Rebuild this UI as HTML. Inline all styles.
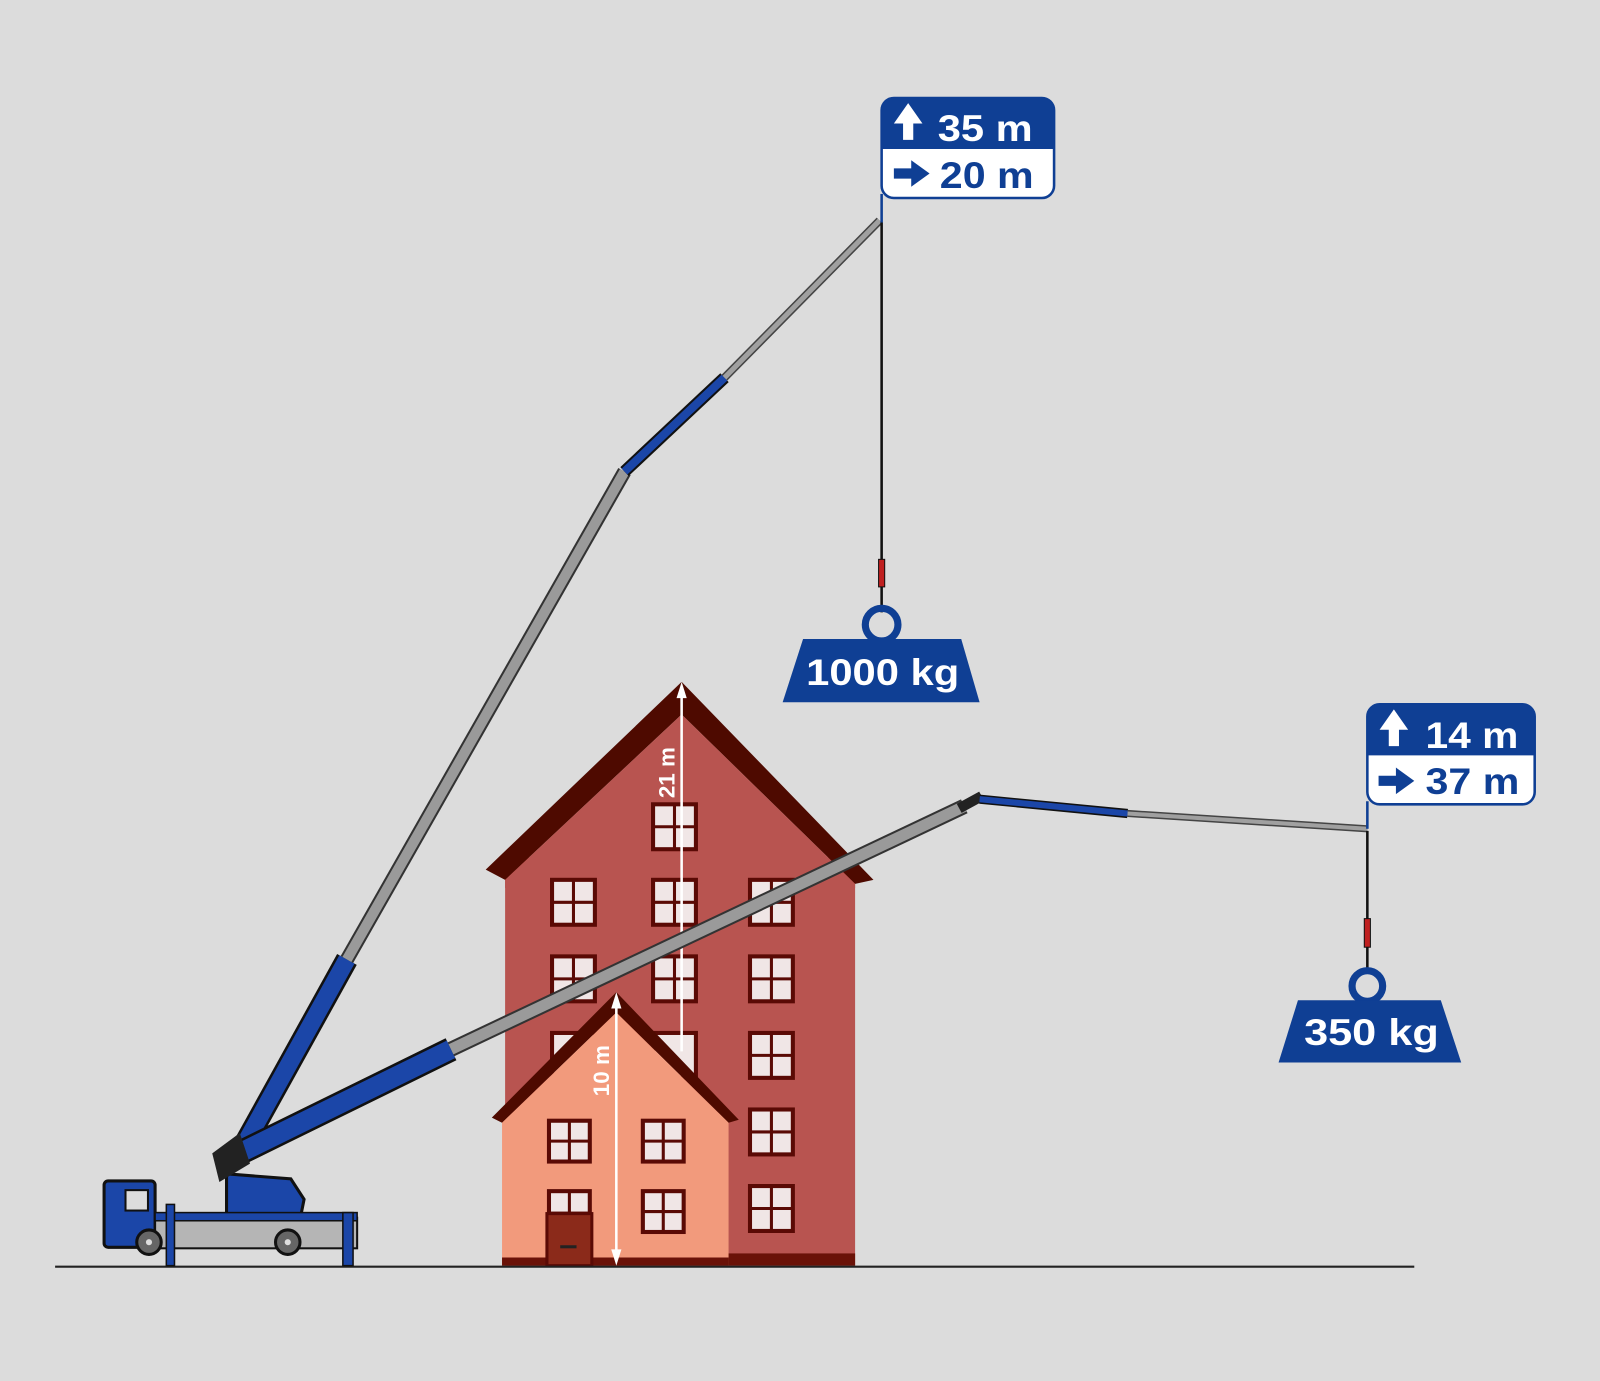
<!DOCTYPE html>
<html><head><meta charset="utf-8"><style>
html,body{margin:0;padding:0;background:#dcdcdc;}
svg{display:block;}
text{font-family:"Liberation Sans",sans-serif;font-weight:bold;}
</style></head><body>
<svg width="1600" height="1381" viewBox="0 0 1568 1353" preserveAspectRatio="none" xmlns="http://www.w3.org/2000/svg">
<rect width="1568" height="1353" fill="#dcdcdc"/>
<!-- tall building -->
<rect x="495" y="840" width="343" height="400" fill="#b85450"/>
<polygon points="476,852 668,668 856,862 838,866 668,700 495,862" fill="#4e0a00"/>
<polygon points="495,862 668,700 838,866 838,870 495,870" fill="#b85450"/>
<rect x="495" y="1228" width="343" height="12" fill="#6a1208"/>
<g fill="#f0e6e6" stroke="#5a0a05" stroke-width="4">
<rect x="640" y="788" width="42" height="44"/>
<rect x="541" y="862" width="42" height="44"/><rect x="640" y="862" width="42" height="44"/><rect x="735" y="862" width="42" height="44"/>
<rect x="541" y="937" width="42" height="44"/><rect x="640" y="937" width="42" height="44"/><rect x="735" y="937" width="42" height="44"/>
<rect x="541" y="1012" width="42" height="44"/><rect x="640" y="1012" width="42" height="44"/><rect x="735" y="1012" width="42" height="44"/>
<rect x="735" y="1087" width="42" height="44"/><rect x="735" y="1162" width="42" height="44"/>
</g>
<g stroke="#5a0a05" stroke-width="3">
<path d="M661 788v44M640 810h42M562 862v44M541 884h42M661 862v44M640 884h42M756 862v44M735 884h42M562 937v44M541 959h42M661 937v44M640 959h42M756 937v44M735 959h42M756 1012v44M735 1034h42M756 1087v44M735 1109h42M756 1162v44M735 1184h42"/>
</g>
<!-- small house -->
<rect x="492" y="1090" width="222" height="150" fill="#f29a7c"/>
<polygon points="482,1095 604,972 724,1097 714,1100 604,992 492,1100" fill="#4e0a00"/>
<polygon points="492,1100 604,992 714,1100" fill="#f29a7c"/>
<rect x="492" y="1232" width="222" height="8" fill="#6a1208"/>
<g fill="#f0e6e6" stroke="#5a0a05" stroke-width="4">
<rect x="538" y="1098" width="40" height="40"/><rect x="630" y="1098" width="40" height="40"/>
<rect x="630" y="1167" width="40" height="40"/><rect x="538" y="1167" width="40" height="22"/>
</g>
<path d="M558 1098v40M538 1118h40M650 1098v40M630 1118h40M650 1167v40M630 1187h40M558 1167v22" stroke="#5a0a05" stroke-width="3"/>
<rect x="536" y="1189" width="44" height="51" fill="#8b2a1a" stroke="#5a0a05" stroke-width="3"/>
<rect x="549" y="1220" width="16" height="3" fill="#222"/>
<!-- dimension arrows -->
<g stroke="#fff" stroke-width="2.5" fill="#fff">
<line x1="668" y1="680" x2="668" y2="1030"/>
<polygon points="668,668 663,684 673,684" stroke="none"/>
<line x1="604" y1="985" x2="604" y2="1228"/>
<polygon points="604,972 599,988 609,988" stroke="none"/>
<polygon points="604,1240 599,1224 609,1224" stroke="none"/>
</g>
<text x="0" y="0" font-size="22" fill="#fff" transform="translate(661,782) rotate(-90)">21 m</text>
<text x="0" y="0" font-size="22" fill="#fff" transform="translate(597,1074) rotate(-90)">10 m</text>
<!-- ground -->
<line x1="54" y1="1241" x2="1386" y2="1241" stroke="#222" stroke-width="2"/>
<!-- boom 1 -->
<g stroke-linecap="butt">
<line x1="232" y1="1135" x2="340" y2="940" stroke="#111" stroke-width="22"/>
<line x1="232" y1="1135" x2="340" y2="940" stroke="#1b46a8" stroke-width="17"/>
<line x1="340" y1="940" x2="612" y2="462" stroke="#333" stroke-width="14"/>
<line x1="340" y1="940" x2="612" y2="462" stroke="#9a9a9a" stroke-width="10"/>
<line x1="612" y1="462" x2="710" y2="370" stroke="#111" stroke-width="12"/>
<line x1="612" y1="462" x2="710" y2="370" stroke="#1b46a8" stroke-width="8"/>
<line x1="710" y1="370" x2="862" y2="216" stroke="#444" stroke-width="8"/>
<line x1="710" y1="370" x2="862" y2="216" stroke="#a0a0a0" stroke-width="5"/>
</g>
<line x1="864" y1="218" x2="864" y2="600" stroke="#111" stroke-width="2.5"/>
<rect x="861" y="548" width="6" height="27" fill="#c02020" stroke="#111"/>
<!-- boom 2 -->
<g>
<line x1="218" y1="1138" x2="442" y2="1028" stroke="#111" stroke-width="24"/>
<line x1="218" y1="1138" x2="442" y2="1028" stroke="#1b46a8" stroke-width="19"/>
<line x1="442" y1="1028" x2="945" y2="790" stroke="#333" stroke-width="15"/>
<line x1="442" y1="1028" x2="945" y2="790" stroke="#9a9a9a" stroke-width="11"/>
<line x1="940" y1="792" x2="962" y2="780" stroke="#222" stroke-width="10"/>
<line x1="960" y1="783" x2="1105" y2="797" stroke="#111" stroke-width="9"/>
<line x1="960" y1="783" x2="1105" y2="797" stroke="#1b46a8" stroke-width="6"/>
<line x1="1105" y1="797" x2="1340" y2="812" stroke="#444" stroke-width="7"/>
<line x1="1105" y1="797" x2="1340" y2="812" stroke="#a0a0a0" stroke-width="4"/>
</g>
<line x1="1340" y1="814" x2="1340" y2="952" stroke="#111" stroke-width="2.5"/>
<rect x="1337" y="900" width="6" height="28" fill="#c02020" stroke="#111"/>
<!-- truck -->
<g>
<polygon points="222,1150 285,1155 298,1175 295,1190 222,1190" fill="#1b46a8" stroke="#111" stroke-width="3"/>
<polygon points="208,1130 235,1110 245,1140 215,1158" fill="#222"/>
<rect x="102" y="1157" width="50" height="65" rx="4" fill="#1b46a8" stroke="#111" stroke-width="3"/>
<rect x="123" y="1166" width="22" height="20" fill="#dcdcdc" stroke="#111" stroke-width="2"/>
<rect x="152" y="1193" width="198" height="30" fill="#b5b5b5" stroke="#111" stroke-width="2"/>
<rect x="152" y="1188" width="198" height="8" fill="#1b46a8" stroke="#111" stroke-width="1.5"/>
<rect x="163" y="1180" width="8" height="60" fill="#1b46a8" stroke="#111" stroke-width="1.5"/>
<rect x="336" y="1188" width="10" height="52" fill="#1b46a8" stroke="#111" stroke-width="1.5"/>
<circle cx="146" cy="1217" r="12" fill="#666" stroke="#111" stroke-width="3"/>
<circle cx="282" cy="1217" r="12" fill="#666" stroke="#111" stroke-width="3"/>
<circle cx="146" cy="1217" r="3" fill="#ddd"/><circle cx="282" cy="1217" r="3" fill="#ddd"/>
</g>
<!-- weights -->
<g fill="#0f3f94">
<circle cx="864" cy="612" r="16" fill="none" stroke="#0f3f94" stroke-width="7"/>
<polygon points="787,626 942,626 960,688 767,688"/>
<circle cx="1340" cy="966" r="15" fill="none" stroke="#0f3f94" stroke-width="7"/>
<polygon points="1272,980 1412,980 1432,1041 1253,1041"/>
</g>
<text x="790" y="671" font-size="36" fill="#fff" textLength="150" lengthAdjust="spacingAndGlyphs">1000 kg</text>
<text x="1278" y="1024" font-size="36" fill="#fff" textLength="132" lengthAdjust="spacingAndGlyphs">350 kg</text>
<!-- label 1 -->
<rect x="864" y="96" width="169" height="98" rx="12" fill="#fff" stroke="#0f3f94" stroke-width="2.5"/>
<path d="M864 146 V108 a12 12 0 0 1 12 -12 H1021 a12 12 0 0 1 12 12 V146 Z" fill="#0f3f94"/>
<line x1="864" y1="190" x2="864" y2="218" stroke="#0f3f94" stroke-width="2.5"/>
<polygon points="890,101 876,121 885,121 885,137 895,137 895,121 904,121" fill="#fff"/>
<polygon points="876,165 893,165 893,157 911,170 893,183 893,175 876,175" fill="#0f3f94"/>
<text x="919" y="138" font-size="36" fill="#fff" textLength="93" lengthAdjust="spacingAndGlyphs">35 m</text>
<text x="921" y="184" font-size="36" fill="#0f3f94" textLength="92" lengthAdjust="spacingAndGlyphs">20 m</text>
<!-- label 2 -->
<rect x="1340" y="690" width="164" height="98" rx="12" fill="#fff" stroke="#0f3f94" stroke-width="2.5"/>
<path d="M1340 740 V702 a12 12 0 0 1 12 -12 H1492 a12 12 0 0 1 12 12 V740 Z" fill="#0f3f94"/>
<line x1="1340" y1="785" x2="1340" y2="812" stroke="#0f3f94" stroke-width="2.5"/>
<polygon points="1366,695 1352,715 1361,715 1361,731 1371,731 1371,715 1380,715" fill="#fff"/>
<polygon points="1351,760 1368,760 1368,752 1386,765 1368,778 1368,770 1351,770" fill="#0f3f94"/>
<text x="1397" y="733" font-size="36" fill="#fff" textLength="91" lengthAdjust="spacingAndGlyphs">14 m</text>
<text x="1397" y="778" font-size="36" fill="#0f3f94" textLength="92" lengthAdjust="spacingAndGlyphs">37 m</text>
</svg>
</body></html>
